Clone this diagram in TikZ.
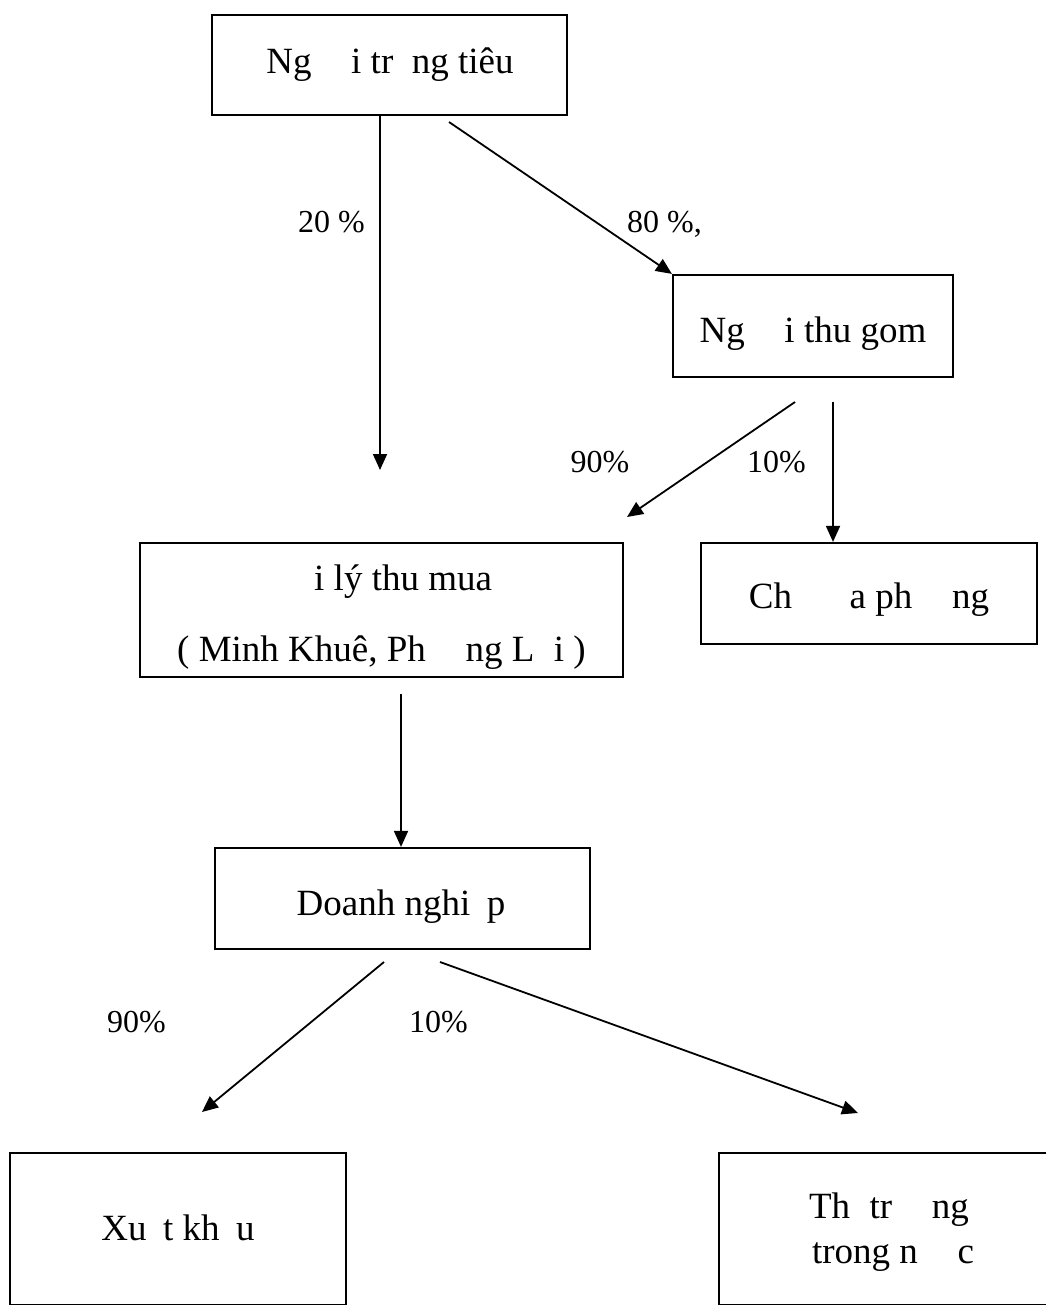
\documentclass[tikz,border=0pt]{standalone}
\usepackage{fontspec}
\setmainfont{Liberation Serif}
\usetikzlibrary{arrows.meta}
\tikzset{
  box/.style={draw, line width=2.2pt, inner sep=0pt},
  txt/.style={font=\fontsize{37}{44}\selectfont, inner sep=0pt, anchor=base},
  pct/.style={font=\fontsize{32}{38}\selectfont, inner sep=0pt, anchor=base},
  flow/.style={line width=1.8pt, -{Triangle[length=16pt,width=14pt]}}
}
\begin{document}
\begin{tikzpicture}[x=1pt,y=-1pt]
\useasboundingbox (0,0) rectangle (1045,1305);
% boxes
\node[box, minimum width=355pt, minimum height=100pt] (b1) at (389.5,65) {};
\node[box, minimum width=280pt, minimum height=102pt] (b2) at (813,326) {};
\node[box, minimum width=483pt, minimum height=134pt] (b3) at (381.5,610) {};
\node[box, minimum width=336pt, minimum height=101pt] (b4) at (869,593.5) {};
\node[box, minimum width=375pt, minimum height=101pt] (b5) at (402.5,898.5) {};
\node[box, minimum width=336pt, minimum height=152pt] (b6) at (178,1229) {};
\node[box, minimum width=346pt, minimum height=152pt] (b7) at (892,1229) {};
% texts
\node[txt] (t1) at (390,74) {Ng\phantom{ườ}i tr\phantom{ồ}ng tiêu};
\node[txt] (t2) at (813,342) {Ng\phantom{ườ}i thu gom};
\node[txt] (t3a) at (381.5,590) {\phantom{Đạ}i lý thu mua};
\node[txt] (t3b) at (381.5,661) {( Minh Khuê, Ph\phantom{ươ}ng L\phantom{ợ}i )};
\node[txt] (t4) at (869,608) {Ch\phantom{ợ đị}a ph\phantom{ươ}ng};
\node[txt] (t5) at (401,915) {Doanh nghi\phantom{ệ}p};
\node[txt] (t6) at (178,1240) {Xu\phantom{ấ}t kh\phantom{ẩ}u};
\node[txt] (t7a) at (889,1218) {Th\phantom{ị} tr\phantom{ườ}ng};
\node[txt] (t7b) at (893,1263) {trong n\phantom{ướ}c};
% percentages
\node[pct] (p1) at (331.5,233) {20 \%};
\node[pct] (p2) at (664.5,233) {80 \%,};
\node[pct] (p3) at (600,472) {90\%};
\node[pct] (p4) at (776.5,472) {10\%};
\node[pct] (p5) at (136.5,1032) {90\%};
\node[pct] (p6) at (438.5,1032) {10\%};
% connector ends
\coordinate (e1) at (380,470);
\coordinate (s2) at (449,122);
\coordinate (s3) at (795,402);
\coordinate (e3) at (627,517);
\coordinate (s4) at (833,402);
\coordinate (s5) at (401,694);
\coordinate (s6) at (384,962);
\coordinate (e6) at (202,1112);
\coordinate (s7) at (440,962);
\coordinate (e7) at (858,1113);
% connectors
\draw[flow] (b1.south -| e1) -- (e1);
\draw[flow] (s2) -- (b2.north west);
\draw[flow] (s3) -- (e3);
\draw[flow] (s4) -- (b4.north -| s4);
\draw[flow] (s5) -- (b5.north -| s5);
\draw[flow] (s6) -- (e6);
\draw[flow] (s7) -- (e7);
\end{tikzpicture}
\end{document}
